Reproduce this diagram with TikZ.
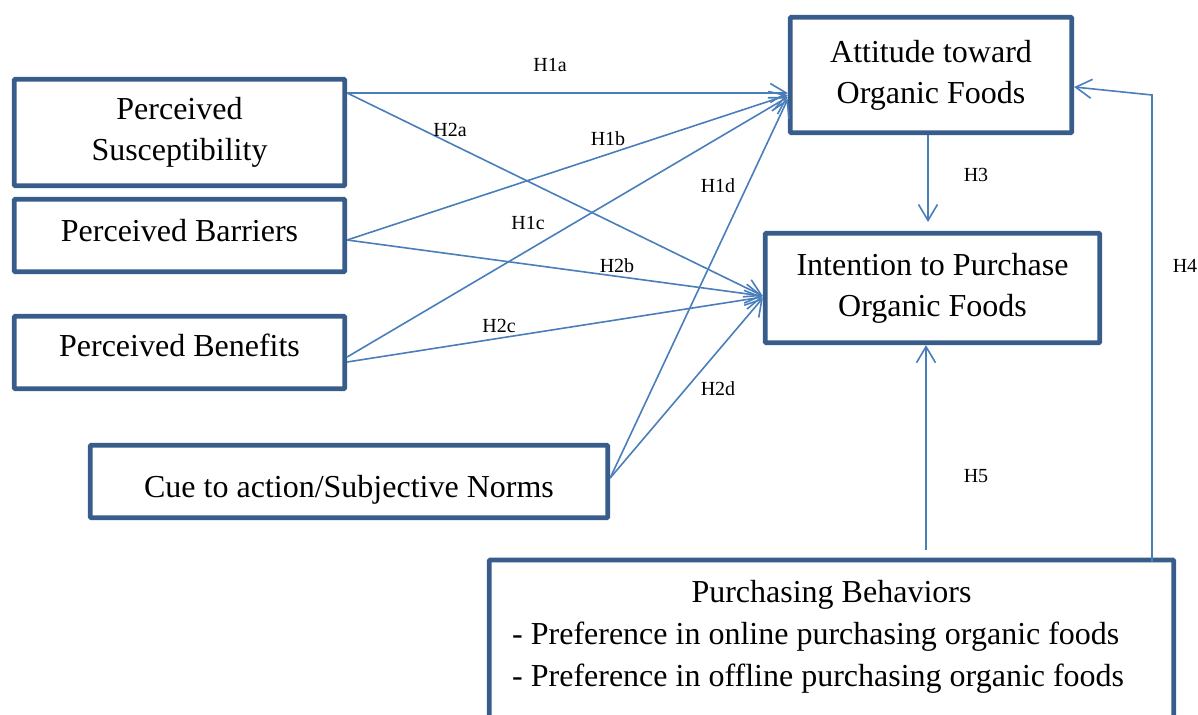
\documentclass[tikz,border=0pt]{standalone}
\usepackage{fontspec}
\setmainfont{Liberation Serif}
\usetikzlibrary{arrows.meta}
\definecolor{boxblue}{HTML}{385D8A}
\definecolor{lineblue}{HTML}{4A7EBB}
\tikzset{
  box/.style={draw=boxblue, line width=4.8pt, rounded corners=1pt, fill=white,
    font=\fontsize{32}{41}\selectfont, align=center, inner sep=0pt},
  conn/.style={draw=lineblue, line width=1.6pt,
    -{Straight Barb[length=16pt,width=19pt,line width=1.6pt]}},
  hlab/.style={font=\fontsize{20}{24}\selectfont, inner sep=0pt}
}
\begin{document}
\begin{tikzpicture}[x=1pt,y=-1pt]
\useasboundingbox (0,0) rectangle (1198,714);

% boxes
\node[box, minimum width=330.5pt, minimum height=106.5pt] (ps) at (179.5,132.5) {Perceived\\Susceptibility};
\node[box, minimum width=330.5pt, minimum height=72.5pt, text height=21.9pt, text depth=9pt] (pb) at (179.5,235.5) {Perceived Barriers};
\node[box, minimum width=330.5pt, minimum height=72.5pt, text height=21.9pt, text depth=13pt] (pben) at (179.5,352.5) {Perceived Benefits};
\node[box, minimum width=517.5pt, minimum height=72.5pt, text height=38pt, text depth=7pt] (cue) at (349,481.5) {Cue to action/Subjective Norms};
\node[box, minimum width=281.5pt, minimum height=115.5pt] (att) at (931,75) {Attitude toward\\Organic Foods};
\node[box, minimum width=334.5pt, minimum height=109.5pt] (int) at (932.5,288) {Intention to Purchase\\Organic Foods};
\node[box, minimum width=684.5pt, minimum height=180pt] (pbeh) at (831.5,650) {};
\node[font=\fontsize{32}{41}\selectfont, anchor=base, inner sep=0pt] (pbt) at (831.5,602) {Purchasing Behaviors};
\node[font=\fontsize{32}{42}\selectfont, anchor=base west, align=left, inner sep=0pt] (pbl) at (512,686) {- Preference in online purchasing organic foods\\- Preference in offline purchasing organic foods};

% connectors
\draw[conn] ([yshift=39.5pt]ps.east) -- ([yshift=-18pt]att.west);
\draw[conn] ([yshift=39.5pt]ps.east) -- ([yshift=-8pt]int.west);
\draw[conn] ([yshift=-4.5pt]pb.east) -- ([yshift=-20pt]att.west);
\draw[conn] ([yshift=-4.5pt]pb.east) -- ([yshift=-8pt]int.west);
\draw[conn] ([yshift=-4.5pt]pben.east) -- ([yshift=-22pt]att.west);
\draw[conn] ([yshift=-9.5pt]pben.east) -- ([yshift=-9pt]int.west);
\draw[conn] ([yshift=3.5pt]cue.east) -- ([yshift=-24pt]att.west);
\draw[conn] ([yshift=3.5pt]cue.east) -- ([yshift=-10pt]int.west);

\coordinate (h3end) at (928,222);
\draw[conn] ([xshift=-3pt]att.south) -- (h3end);

\coordinate (h4a) at (1152,562);
\coordinate (h4b) at (1152,95);
\draw[conn] (h4a) -- (h4b) -- ([yshift=-12pt]att.east);

\coordinate (h5a) at (926,550);
\draw[conn] (h5a) -- ([xshift=-6.5pt]int.south);

% labels
\node[hlab] (l1a) at (550,65) {H1a};
\node[hlab] (l2a) at (450,130) {H2a};
\node[hlab] (l1b) at (608,139) {H1b};
\node[hlab] (l1d) at (718,186) {H1d};
\node[hlab] (l1c) at (528,223) {H1c};
\node[hlab] (l2b) at (617,266) {H2b};
\node[hlab] (l2c) at (499,326) {H2c};
\node[hlab] (l2d) at (718,389) {H2d};
\node[hlab] (l3) at (976,175) {H3};
\node[hlab] (l4) at (1185,266) {H4};
\node[hlab] (l5) at (976,476) {H5};
\end{tikzpicture}
\end{document}
